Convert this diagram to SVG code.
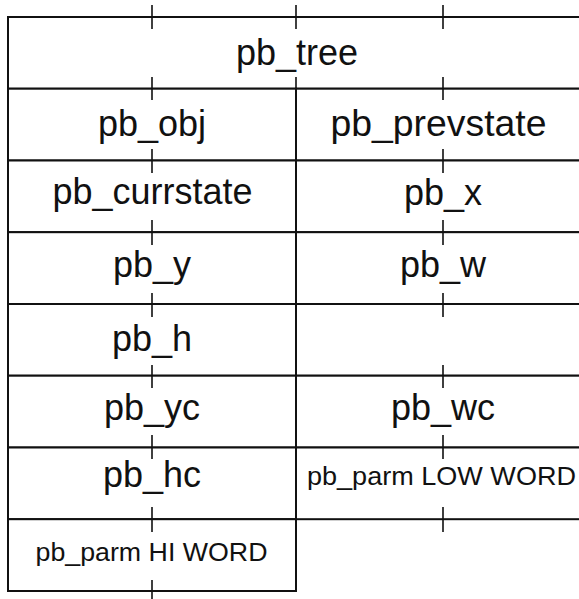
<svg xmlns="http://www.w3.org/2000/svg" width="579" height="599" viewBox="0 0 579 599">
  <style>
    .cell { fill: #fff; stroke: #111; stroke-width: 2; }
    .lbl { font-family: "Liberation Sans", Arial, Helvetica, sans-serif; font-size: 36px; fill: #111; text-anchor: middle; }
    .sm { font-size: 26px; }
    .tick { stroke: #111; stroke-width: 1.6; fill: none; }
  </style>
  <rect width="579" height="599" fill="#fff"/>

  <!-- full-width header cell -->
  <g id="pb_tree">
    <rect class="cell" x="8" y="17" width="582" height="71.7"/>
    <text class="lbl" x="297" y="65">pb_tree</text>
  </g>

  <!-- left column -->
  <g id="pb_obj">
    <rect class="cell" x="8" y="88.7" width="288" height="71.8"/>
    <text class="lbl" x="152" y="136">pb_obj</text>
  </g>
  <g id="pb_currstate">
    <rect class="cell" x="8" y="160.5" width="288" height="71.7"/>
    <text class="lbl" x="152.5" y="204" textLength="200" lengthAdjust="spacingAndGlyphs">pb_currstate</text>
  </g>
  <g id="pb_y">
    <rect class="cell" x="8" y="232.2" width="288" height="71.8"/>
    <text class="lbl" x="152" y="277">pb_y</text>
  </g>
  <g id="pb_h">
    <rect class="cell" x="8" y="304" width="288" height="71.7"/>
    <text class="lbl" x="152" y="351">pb_h</text>
  </g>
  <g id="pb_yc">
    <rect class="cell" x="8" y="375.7" width="288" height="71.8"/>
    <text class="lbl" x="152" y="420">pb_yc</text>
  </g>
  <g id="pb_hc">
    <rect class="cell" x="8" y="447.5" width="288" height="71.7"/>
    <text class="lbl" x="152" y="487">pb_hc</text>
  </g>
  <g id="pb_parm_hi">
    <rect class="cell" x="8" y="519.2" width="288" height="71.8"/>
    <text class="lbl sm" x="151.5" y="561" textLength="232" lengthAdjust="spacingAndGlyphs">pb_parm HI WORD</text>
  </g>

  <!-- right column -->
  <g id="pb_prevstate">
    <rect class="cell" x="296" y="88.7" width="294" height="71.8"/>
    <text class="lbl" x="438.5" y="136" textLength="216" lengthAdjust="spacingAndGlyphs">pb_prevstate</text>
  </g>
  <g id="pb_x">
    <rect class="cell" x="296" y="160.5" width="294" height="71.7"/>
    <text class="lbl" x="443" y="205">pb_x</text>
  </g>
  <g id="pb_w">
    <rect class="cell" x="296" y="232.2" width="294" height="71.8"/>
    <text class="lbl" x="443" y="277">pb_w</text>
  </g>
  <g id="empty_slot">
    <rect class="cell" x="296" y="304" width="294" height="71.7"/>
  </g>
  <g id="pb_wc">
    <rect class="cell" x="296" y="375.7" width="294" height="71.8"/>
    <text class="lbl" x="443" y="420">pb_wc</text>
  </g>
  <g id="pb_parm_low">
    <rect class="cell" x="296" y="447.5" width="294" height="71.7"/>
    <text class="lbl sm" x="441.5" y="485" textLength="269" lengthAdjust="spacingAndGlyphs">pb_parm LOW WORD</text>
  </g>

  <!-- midpoint tick marks across each row boundary -->
  <g id="ticks" class="tick">
    <path d="M152 5V29 M296 5V29 M443 5V29
             M152 77V100 M296 77V89 M443 77V100
             M152 149V173 M443 149V173
             M152 220V245 M443 220V245
             M152 293V317 M443 293V317
             M152 365V388 M443 365V388
             M152 435V459 M443 435V459
             M152 507V532 M443 507V532
             M152 580V599"/>
  </g>
</svg>
